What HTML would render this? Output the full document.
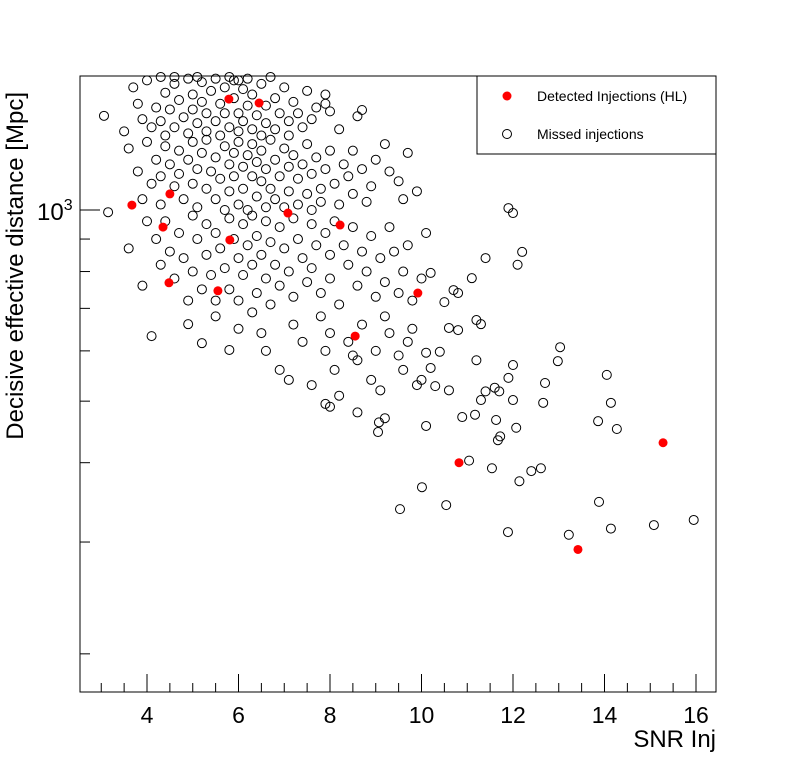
<!DOCTYPE html>
<html><head><meta charset="utf-8"><style>
body{margin:0;background:#fff;}
svg{display:block;font-family:"Liberation Sans",sans-serif;}
</style></head><body>
<svg id="chart" width="796" height="772" viewBox="0 0 796 772">
<rect x="0" y="0" width="796" height="772" fill="#fff"/>
<g id="marks"></g>
<g id="axes"></g>
<rect x="80" y="76" width="636" height="616" fill="none" stroke="#000" stroke-width="1"/>
<text x="716" y="747" font-size="24" text-anchor="end">SNR Inj</text>
<text transform="translate(23,92) rotate(-90)" font-size="24" text-anchor="end">Decisive effective distance [Mpc]</text>
<g>
<rect x="477" y="76" width="239" height="78" fill="#fff" stroke="#000"/>
<circle cx="507" cy="96" r="4.5" fill="#f00"/>
<text x="537" y="101" font-size="14">Detected Injections (HL)</text>
<circle cx="507" cy="134" r="4.5" fill="none" stroke="#000"/>
<text x="537" y="139" font-size="14">Missed injections</text>
</g>
</svg>
<script>
const detectedPoints=[[3.67,1018],[4.50,1060],[4.48,768],[4.35,940],[5.55,746],[5.81,897],[5.79,1495],[6.45,1474],[7.08,989],[8.22,947],[8.55,633],[9.92,740],[10.82,400],[13.42,292],[15.28,430]];
const missedPoints=[
[3.06,1407],[3.15,992],[3.5,1330],[3.7,1560],[3.8,1470],[3.9,1390],[4.0,1600],[4.1,1350],[4.2,1450],[4.3,1620],[4.3,1380],[4.4,1530],[4.4,1310],[4.5,1440],[4.6,1580],[4.6,1350],[4.7,1490],[4.8,1400],[4.9,1610],[4.9,1320],[5.0,1520],[5.0,1440],[5.1,1370],[5.2,1590],[5.2,1480],[5.3,1330],[5.3,1420],[5.4,1540],[5.5,1610],[5.5,1380],[5.6,1470],[5.6,1310],[5.7,1560],[5.7,1420],[5.8,1350],[5.9,1600],[5.9,1500],[6.0,1420],[6.0,1330],[6.1,1550],[6.1,1380],[6.2,1460],[6.2,1610],[6.3,1340],[6.3,1520],[6.4,1410],[6.5,1580],[6.5,1310],[6.6,1460],[6.6,1370],[6.7,1620],[6.8,1500],[6.8,1340],[6.9,1420],[7.0,1560],[7.1,1380],[7.1,1310],[7.2,1480],[7.3,1420],[7.4,1350],[7.5,1540],[7.6,1390],[7.7,1450],[7.9,1520],[7.9,1470],[8.0,1430],[8.2,1340],[8.6,1405],[8.7,1437],[5.8,1620],[6.0,1600],[5.1,1620],[4.6,1620],
[3.6,1250],[3.8,1150],[3.9,1040],[4.0,1280],[4.1,1100],[4.2,1200],[4.3,1130],[4.3,1020],[4.4,1260],[4.5,1180],[4.6,1090],[4.7,1240],[4.7,1140],[4.8,1040],[4.9,1200],[5.0,1280],[5.0,1100],[5.1,1160],[5.1,1010],[5.2,1230],[5.3,1080],[5.3,1290],[5.4,1150],[5.5,1040],[5.5,1210],[5.6,1120],[5.7,1260],[5.7,1000],[5.8,1180],[5.8,1070],[5.9,1230],[5.9,1130],[6.0,1020],[6.0,1280],[6.1,1170],[6.1,1080],[6.2,1220],[6.2,1000],[6.3,1130],[6.3,1270],[6.4,1050],[6.4,1190],[6.5,1110],[6.5,1240],[6.6,1010],[6.6,1160],[6.7,1080],[6.7,1290],[6.8,1200],[6.8,1040],[6.9,1130],[7.0,1250],[7.0,1010],[7.1,1170],[7.1,1070],[7.2,1220],[7.3,1120],[7.3,1020],[7.4,1180],[7.5,1060],[7.5,1270],[7.6,1000],[7.6,1140],[7.7,1210],[7.8,1080],[7.8,1030],[7.9,1160],[8.0,1240],[8.1,1100],[8.2,1020],[8.3,1180],[8.4,1130],[8.5,1060],[8.5,1240],[8.7,1160],[8.8,1030],[8.9,1090],[9.0,1200],[9.2,1270],[9.3,1150],[9.5,1110],[9.6,1040],[9.9,1070],[9.7,1230],
[3.6,870],[3.9,760],[4.0,960],[4.2,900],[4.3,820],[4.4,960],[4.5,860],[4.6,780],[4.7,920],[4.8,840],[4.9,720],[5.0,980],[5.0,800],[5.1,900],[5.2,750],[5.3,950],[5.3,850],[5.4,790],[5.5,920],[5.5,720],[5.6,870],[5.7,810],[5.8,970],[5.8,750],[5.9,900],[6.0,840],[6.0,720],[6.1,950],[6.1,790],[6.2,880],[6.3,820],[6.3,980],[6.4,740],[6.4,910],[6.5,850],[6.6,780],[6.6,960],[6.7,710],[6.7,890],[6.8,820],[6.9,940],[6.9,760],[7.0,870],[7.1,800],[7.2,970],[7.2,730],[7.3,900],[7.4,840],[7.5,770],[7.6,950],[7.6,810],[7.7,880],[7.8,740],[7.9,920],[8.0,850],[8.0,780],[8.1,960],[8.2,710],[8.3,880],[8.4,820],[8.5,940],[8.6,760],[8.7,860],[8.8,800],[8.9,910],[9.0,730],[9.1,840],[9.2,770],[9.3,940],[9.4,860],[9.5,740],[9.6,800],[9.7,880],[9.8,720],[10.0,780],[10.1,920],[10.2,796],[10.5,716],[10.7,748],[10.8,740],[11.1,781],[11.4,840],[12.1,820],[12.2,859],[11.9,1007],[12.0,989],
[4.1,633],[4.9,661],[5.2,617],[5.5,680],[5.8,602],[6.0,650],[6.3,690],[6.5,640],[6.6,600],[6.9,560],[7.1,540],[7.2,660],[7.4,620],[7.6,530],[7.8,680],[7.9,600],[8.0,640],[8.1,560],[8.2,510],[8.4,620],[8.6,580],[8.7,660],[8.9,540],[9.0,600],[9.1,520],[9.2,680],[9.3,640],[9.5,590],[9.6,560],[9.7,620],[9.8,650],[9.9,530],[10.0,540],[10.1,596],[10.2,564],[10.3,528],[10.4,598],[10.6,520],[10.6,652],[10.8,647],[11.2,671],[11.3,661],[11.2,580],[11.3,502],[11.4,518],[11.6,525],[11.7,518],[11.9,544],[12.0,570],[8.5,590],
[9.53,338],[10.01,366],[10.10,457],[9.07,463],[9.05,447],[10.54,343],[11.04,403],[10.89,472],[11.17,476],[11.54,392],[11.67,434],[11.72,440],[11.63,467],[11.89,311],[12.0,502],[12.07,454],[12.14,374],[12.40,388],[12.61,392],[12.66,497],[12.70,534],[12.98,578],[13.03,608],[13.22,308],[13.88,347],[13.86,465],[14.05,550],[14.14,497],[14.14,315],[14.27,452],[15.08,319],[15.95,325],[8.0,490],[8.6,480],[9.2,470],[7.9,495]];
const xTickLabels=[4,6,8,10,12,14,16];
const yMinorTicks=[200,300,400,500,600,700,800,900];

const NS='http://www.w3.org/2000/svg';
const L=80,R=716,T=76,B=692;
function xs(v){return 147+(v-4)*45.75;}
function ys(v){return 210-(Math.log10(v)-3)*635;}
function mk(tag,attrs,parent){const e=document.createElementNS(NS,tag);for(const k in attrs)e.setAttribute(k,attrs[k]);parent.appendChild(e);return e;}
const marks=document.getElementById('marks'),axes=document.getElementById('axes');
missedPoints.forEach(p=>{
  const c=mk('circle',{cx:xs(p[0]),cy:ys(p[1]),r:4.5,fill:'none',stroke:'#000','stroke-width':1},marks);
  
  
});
detectedPoints.forEach(p=>{
  const c=mk('circle',{cx:xs(p[0]),cy:ys(p[1]),r:4.5,fill:'#f00'},marks);
  
  
});
for(let v=3;v<=16.4;v+=0.5){
  const major=xTickLabels.includes(v);
  const t=mk('line',{x1:xs(v),x2:xs(v),y1:B,y2:B-(major?18:9),stroke:'#000'},axes);
  
  
}
xTickLabels.forEach(v=>{
  const t=mk('text',{x:xs(v),y:723,'font-size':23,'text-anchor':'middle'},axes);
  t.textContent=v;
  
  
});
yMinorTicks.forEach(v=>{
  const t=mk('line',{x1:L,x2:L+10,y1:ys(v),y2:ys(v),stroke:'#000'},axes);
  
  
});
const ym=mk('line',{x1:L,x2:L+20,y1:ys(1000),y2:ys(1000),stroke:'#000'},axes);


const yl=mk('text',{x:37,y:ys(1000)+10,'font-size':24},axes);
yl.innerHTML='10<tspan dy="-10" font-size="16">3</tspan>';


</script>
</body></html>
